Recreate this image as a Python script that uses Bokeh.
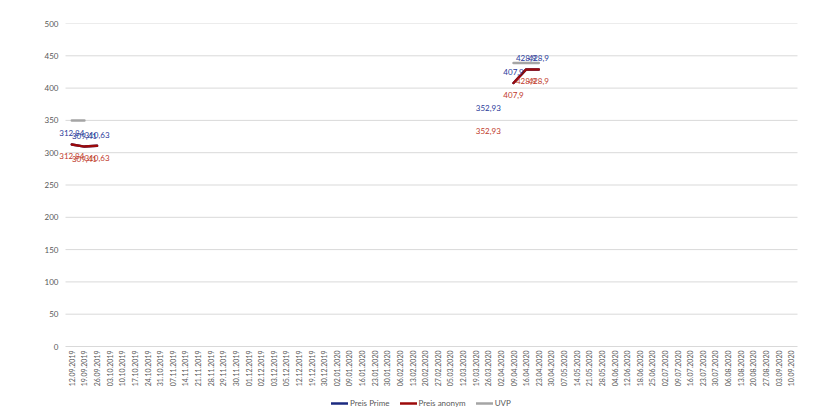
from math import pi
from bokeh.plotting import figure
from bokeh.models import ColumnDataSource, Legend, LegendItem, Range1d, FixedTicker
from bokeh.core.properties import value
from bokeh.embed import file_html
from bokeh.resources import INLINE

nan = float("nan")

# category axis (dates as shown in the chart)
dates = [
    "12.09.2019", "19.09.2019", "26.09.2019", "03.10.2019", "10.10.2019", "17.10.2019",
    "24.10.2019", "31.10.2019", "07.11.2019", "14.11.2019", "21.11.2019", "28.11.2019",
    "29.11.2019", "30.11.2019", "01.12.2019", "02.12.2019", "03.12.2019", "05.12.2019",
    "12.12.2019", "19.12.2019", "30.12.2019", "02.01.2020", "09.01.2020", "16.01.2020",
    "23.01.2020", "30.01.2020", "06.02.2020", "13.02.2020", "20.02.2020", "27.02.2020",
    "05.03.2020", "12.03.2020", "19.03.2020", "26.03.2020", "02.04.2020", "09.04.2020",
    "16.04.2020", "23.04.2020", "30.04.2020", "07.05.2020", "14.05.2020", "21.05.2020",
    "28.05.2020", "04.06.2020", "12.06.2020", "18.06.2020", "25.06.2020", "02.07.2020",
    "09.07.2020", "16.07.2020", "23.07.2020", "30.07.2020", "06.08.2020", "13.08.2020",
    "20.08.2020", "27.08.2020", "03.09.2020", "10.09.2020",
]
y_ticks = [0, 50, 100, 150, 200, 250, 300, 350, 400, 450, 500]

# Preis Prime
prime_dates = ["12.09.2019", "19.09.2019", "26.09.2019", "26.03.2020",
               "09.04.2020", "16.04.2020", "23.04.2020"]
prime_values = [312.84, 309.41, 310.63, 352.93, 407.9, 428.9, 428.9]

# Preis anonym
anonym_dates = ["12.09.2019", "19.09.2019", "26.09.2019", "26.03.2020",
                "09.04.2020", "16.04.2020", "23.04.2020"]
anonym_values = [312.84, 309.41, 310.63, 352.93, 407.9, 428.9, 428.9]

# UVP
uvp_dates = ["12.09.2019", "19.09.2019", "09.04.2020", "16.04.2020", "23.04.2020"]
uvp_values = [349.9, 349.9, 439.0, 439.0, 439.0]

FONT = "Lato"
GREY_TXT = "#595959"
GRID = "#d9d9d9"
BLUE = "#1b2a80"
BLUE_TXT = "#2a3a9a"
RED = "#9c0a0a"
RED_TXT = "#c0392b"
UVP_GREY = "#a5a5a5"

# category slot -> position on a numeric axis (centre of each band)
pos = {d: i + 0.5 for i, d in enumerate(dates)}
n = len(dates)


def full_column(ds, vals):
    lookup = dict(zip(ds, vals))
    return [lookup.get(d, nan) for d in dates]


def fmt(v):
    return f"{v:g}".replace(".", ",")


source = ColumnDataSource(dict(
    x=[pos[d] for d in dates],
    prime=full_column(prime_dates, prime_values),
    anonym=full_column(anonym_dates, anonym_values),
    uvp=full_column(uvp_dates, uvp_values),
))
prime_lbl = ColumnDataSource(dict(x=[pos[d] for d in prime_dates], y=prime_values,
                                  t=[fmt(v) for v in prime_values]))
anonym_lbl = ColumnDataSource(dict(x=[pos[d] for d in anonym_dates], y=anonym_values,
                                   t=[fmt(v) for v in anonym_values]))
xlab = ColumnDataSource(dict(x=[pos[d] for d in dates], y=[0] * n, t=dates))
grid = ColumnDataSource(dict(x0=[0] * len(y_ticks), x1=[n] * len(y_ticks),
                             y=y_ticks))

# frame: plot band 732px wide for the 58 slots, plus room on the left for labels
px_per_slot = 732 / n
pad = 15 / px_per_slot
px_per_unit = 323 / 500
p = figure(frame_width=747 + 15, frame_height=390,
           x_range=Range1d(-pad, n + pad),
           y_range=Range1d(500 - 390 / px_per_unit, 500),
           output_backend="svg", toolbar_location=None,
           min_border_left=50, min_border_right=20, min_border_top=23,
           min_border_bottom=5)
p.outline_line_color = None
p.background_fill_color = "white"
p.xaxis.visible = False
p.xgrid.grid_line_color = None
p.ygrid.grid_line_color = None

# horizontal gridlines across the category band only
p.segment("x0", "y", "x1", "y", source=grid, line_color=GRID, line_width=1)

# lines (Prime first, anonym drawn on top)
r_prime = p.line("x", "prime", source=source, color=BLUE, line_width=2.5,
                 line_cap="round", line_join="round")
r_anonym = p.line("x", "anonym", source=source, color=RED, line_width=2.5,
                  line_cap="round", line_join="round")
r_uvp = p.line("x", "uvp", source=source, color=UVP_GREY, line_width=2.5,
               line_cap="round", line_join="round")

# data labels
p.text("x", "y", text="t", source=prime_lbl, text_font=value(FONT),
       text_font_size="8px", text_color=BLUE_TXT, text_align="center",
       text_baseline="middle", y_offset=-11)
p.text("x", "y", text="t", source=anonym_lbl, text_font=value(FONT),
       text_font_size="8px", text_color=RED_TXT, text_align="center",
       text_baseline="middle", y_offset=12)

# category labels (rotated, hanging below the zero line)
p.text("x", "y", text="t", source=xlab, text_font=value(FONT),
       text_font_size="7px", text_color=GREY_TXT, angle=pi / 2,
       text_align="right", text_baseline="middle", y_offset=4)

# value axis
p.yaxis.ticker = FixedTicker(ticks=y_ticks)
p.yaxis.axis_line_color = None
p.yaxis.major_tick_line_color = None
p.yaxis.minor_tick_line_color = None
p.yaxis.major_tick_out = 0
p.yaxis.major_label_text_font = FONT
p.yaxis.major_label_text_font_size = "8px"
p.yaxis.major_label_text_color = GREY_TXT
p.yaxis.major_label_standoff = -8

legend = Legend(items=[
    LegendItem(label="Preis Prime", renderers=[r_prime]),
    LegendItem(label="Preis anonym", renderers=[r_anonym]),
    LegendItem(label="UVP", renderers=[r_uvp]),
], orientation="horizontal", location=(281, 5))
legend.padding = 0
legend.margin = 0
legend.spacing = 10
legend.glyph_width = 17
legend.glyph_height = 10
legend.label_height = 10
legend.label_standoff = 2
legend.label_text_font = FONT
legend.label_text_font_size = "8px"
legend.label_text_color = GREY_TXT
legend.border_line_color = None
legend.background_fill_alpha = 0
p.add_layout(legend, "center")

open("out.html", "w").write(file_html(p, INLINE))
